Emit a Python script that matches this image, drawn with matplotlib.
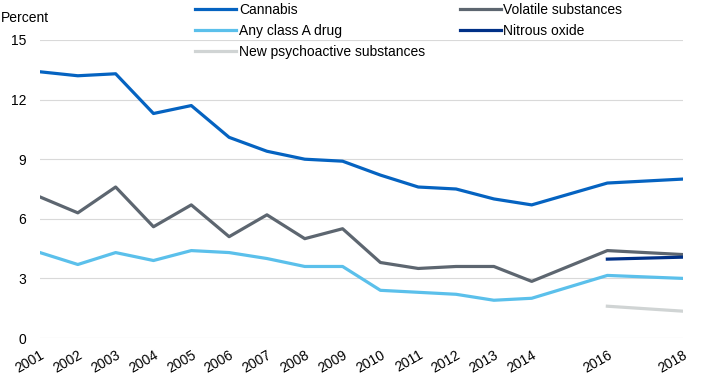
import matplotlib.pyplot as plt
import numpy as np

plt.rcParams['font.family'] = ['Liberation Sans', 'DejaVu Sans']

years = [2001, 2002, 2003, 2004, 2005, 2006, 2007, 2008, 2009, 2010,
         2011, 2012, 2013, 2014, 2016, 2018]
cannabis = [13.4, 13.2, 13.3, 11.3, 11.7, 10.1, 9.4, 9.0, 8.9, 8.2,
            7.6, 7.5, 7.0, 6.7, 7.8, 8.0]
volatile = [7.1, 6.3, 7.6, 5.6, 6.7, 5.1, 6.2, 5.0, 5.5, 3.8,
            3.5, 3.6, 3.6, 2.85, 4.4, 4.2]
class_a = [4.3, 3.7, 4.3, 3.9, 4.4, 4.3, 4.0, 3.6, 3.6, 2.4,
           2.3, 2.2, 1.9, 2.0, 3.15, 3.0]
recent_years = [2016, 2018]
nitrous = [3.97, 4.07]
nps = [1.6, 1.35]

def main():
    fig = plt.figure(figsize=(7.1, 3.85), dpi=100)
    ax = fig.add_axes([40 / 710, 47 / 385, 643 / 710, 298 / 385])

    fs = 10
    lw = 2.3
    l1, = ax.plot(years, cannabis, color='#0563c1', lw=lw, label='Cannabis')
    l2, = ax.plot(years, volatile, color='#5d6670', lw=lw, label='Volatile substances')
    l3, = ax.plot(years, class_a, color='#5bc0eb', lw=lw, label='Any class A drug')
    l4, = ax.plot(recent_years, nitrous, color='#003087', lw=lw, label='Nitrous oxide')
    l5, = ax.plot(recent_years, nps, color='#d0d4d4', lw=lw, label='New psychoactive substances')

    ax.set_xlim(2001, 2018)
    ax.set_ylim(0, 15)
    ax.set_yticks([0, 3, 6, 9, 12, 15])
    ax.set_xticks(years)
    ax.set_xticklabels([str(y) for y in years], rotation=30, ha='right',
                       rotation_mode='anchor', fontsize=fs)
    ax.tick_params(axis='y', labelsize=fs, length=0, pad=10)
    ax.tick_params(axis='x', length=0, pad=7)
    ax.grid(axis='y', color='#d9d9d9', lw=0.8)
    ax.set_axisbelow(True)
    for s in ax.spines.values():
        s.set_visible(False)

    fig.text(1 / 710, 1 - 18 / 385, 'Percent', fontsize=fs, va='center', ha='left')

    fig.legend([l1, l3, l5, l2, l4],
               ['Cannabis', 'Any class A drug', 'New psychoactive substances',
                'Volatile substances', 'Nitrous oxide'],
               ncol=2, frameon=False, fontsize=fs, handlelength=2.95,
               handletextpad=0.2, columnspacing=2.5, labelspacing=0.5,
               borderpad=0, loc='upper left',
               bbox_to_anchor=(195 / 710, 1 - 3 / 385), borderaxespad=0)

    fig.savefig('out.png', dpi=100)

if __name__ == "__main__":
    main()
